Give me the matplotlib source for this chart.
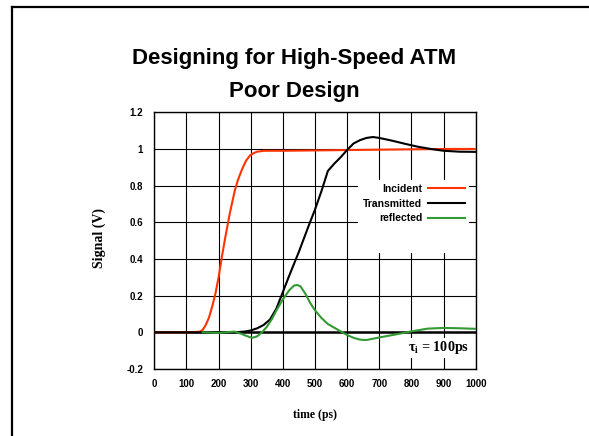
import matplotlib
matplotlib.use("Agg")
import matplotlib.pyplot as plt
from matplotlib.lines import Line2D
from matplotlib.patches import Rectangle

plt.rcParams['mathtext.fontset'] = 'custom'
plt.rcParams['mathtext.bf'] = 'Liberation Serif:bold'
plt.rcParams['mathtext.rm'] = 'Liberation Serif'

# time axis (ps) and signal values (V)
incident_t = [0, 100, 140, 150, 160, 170, 180, 190, 200, 210, 220, 235, 250, 260,
              272, 285, 298, 310, 320, 340, 400, 500, 600, 700, 800, 900, 1000]
incident_v = [0, 0, 0.003, 0.012, 0.04, 0.08, 0.14, 0.21, 0.3, 0.41, 0.51, 0.65, 0.77, 0.83,
              0.885, 0.935, 0.965, 0.978, 0.985, 0.99, 0.99, 0.992, 0.994, 0.996, 0.998, 1.0, 1.0]

transmitted_t = [0, 250, 280, 300, 320, 340, 360, 380, 400, 420, 450, 480, 500, 520, 540,
                 560, 580, 600, 620, 640, 660, 680, 700, 740, 780, 820, 860, 900, 950, 1000]
transmitted_v = [0, 0, 0.004, 0.01, 0.022, 0.04, 0.07, 0.13, 0.22, 0.31, 0.44, 0.58, 0.67, 0.77, 0.88,
                 0.92, 0.955, 0.995, 1.03, 1.048, 1.06, 1.065, 1.06, 1.045, 1.028, 1.012, 1.0, 0.99, 0.985, 0.984]

reflected_t = [150, 200, 250, 270, 290, 305, 320, 335, 350, 365, 380, 400, 420, 435, 445, 455,
               470, 485, 500, 520, 540, 560, 580, 600, 620, 640, 660, 700, 750, 800, 850, 900, 950, 1000]
reflected_v = [0, -0.003, 0.004, -0.008, -0.022, -0.03, -0.022, 0.0, 0.03, 0.07, 0.12, 0.18, 0.23, 0.255, 0.258, 0.25,
               0.21, 0.16, 0.12, 0.078, 0.045, 0.025, 0.005, -0.015, -0.03, -0.04, -0.042, -0.028, -0.012, 0.005, 0.02, 0.024, 0.022, 0.019]

x_ticks = [0, 100, 200, 300, 400, 500, 600, 700, 800, 900, 1000]
y_ticks = [-0.2, 0, 0.2, 0.4, 0.6, 0.8, 1.0, 1.2]
y_tick_labels = ["-0.2", "0", "0.2", "0.4", "0.6", "0.8", "1", "1.2"]

fig = plt.figure(figsize=(5.89, 4.36), dpi=100)

# slide frame (left and top edges)
fy = 1 - 7 / 436
fx = 12 / 589
fig.add_artist(Line2D([fx, fx], [0, fy], color="black", lw=1.6, transform=fig.transFigure))
fig.add_artist(Line2D([fx, 1], [fy, fy], color="black", lw=1.6, transform=fig.transFigure))

fig.text(0.5, 0.853, "Designing for High-Speed ATM", ha="center", va="baseline",
         fontsize=16, fontweight="bold", family="Liberation Sans")
fig.text(0.5, 0.777, "Poor Design", ha="center", va="baseline",
         fontsize=16, fontweight="bold", family="Liberation Sans")

ax = fig.add_axes([0.262, 0.1537, 0.5457, 0.5888])
ax.set_xlim(0, 1000)
ax.set_ylim(-0.2, 1.2)
ax.set_xticks(x_ticks)
ax.set_yticks(y_ticks)
ax.set_yticklabels(y_tick_labels)
ax.set_axisbelow(True)
ax.grid(True, color="black", lw=0.8)
ax.tick_params(length=0, labelsize=7)
ax.tick_params(axis="y", pad=8)
ax.tick_params(axis="x", pad=7)
for lab in ax.get_xticklabels() + ax.get_yticklabels():
    lab.set_fontweight("bold")
    lab.set_family("Liberation Sans")
for s in ax.spines.values():
    s.set_linewidth(1.0)

ax.axhline(0, color="black", lw=1.8, zorder=1.8)

# white box behind the legend
ax.add_patch(Rectangle((0.634, 0.452), 0.345, 0.284, transform=ax.transAxes,
                       facecolor="white", edgecolor="none", zorder=1))

ax.plot(incident_t, incident_v, color="#ff3300", lw=1.5, label="Incident", zorder=3)
ax.plot(transmitted_t, transmitted_v, color="black", lw=1.5, label="Transmitted", zorder=3)
ax.plot(reflected_t, reflected_v, color="#339933", lw=1.5, label="reflected", zorder=3)

ax.legend(loc="upper right", bbox_to_anchor=(0.967, 0.721), frameon=False,
          markerfirst=False, borderpad=0, borderaxespad=0, handlelength=3.6,
          handletextpad=0.5, labelspacing=0.45,
          prop={"family": "Liberation Sans", "weight": "bold", "size": 7.5})

ax.text(979, -0.085, r"τ$_{\mathbf{i}}$ = 100ps", ha="right", va="center",
        fontsize=10.2, fontweight="bold", family="Liberation Serif",
        bbox=dict(facecolor="white", edgecolor="none", pad=1), zorder=4)

ax.set_xlabel("time (ps)", fontsize=8.5, fontweight="bold", family="Liberation Serif")
ax.set_ylabel("Signal (V)", fontsize=10, fontweight="bold", family="Liberation Serif")
ax.xaxis.set_label_coords(0.5, -0.156)
ax.yaxis.set_label_coords(-0.15, 0.511)

fig.savefig("out.png", dpi=100)
